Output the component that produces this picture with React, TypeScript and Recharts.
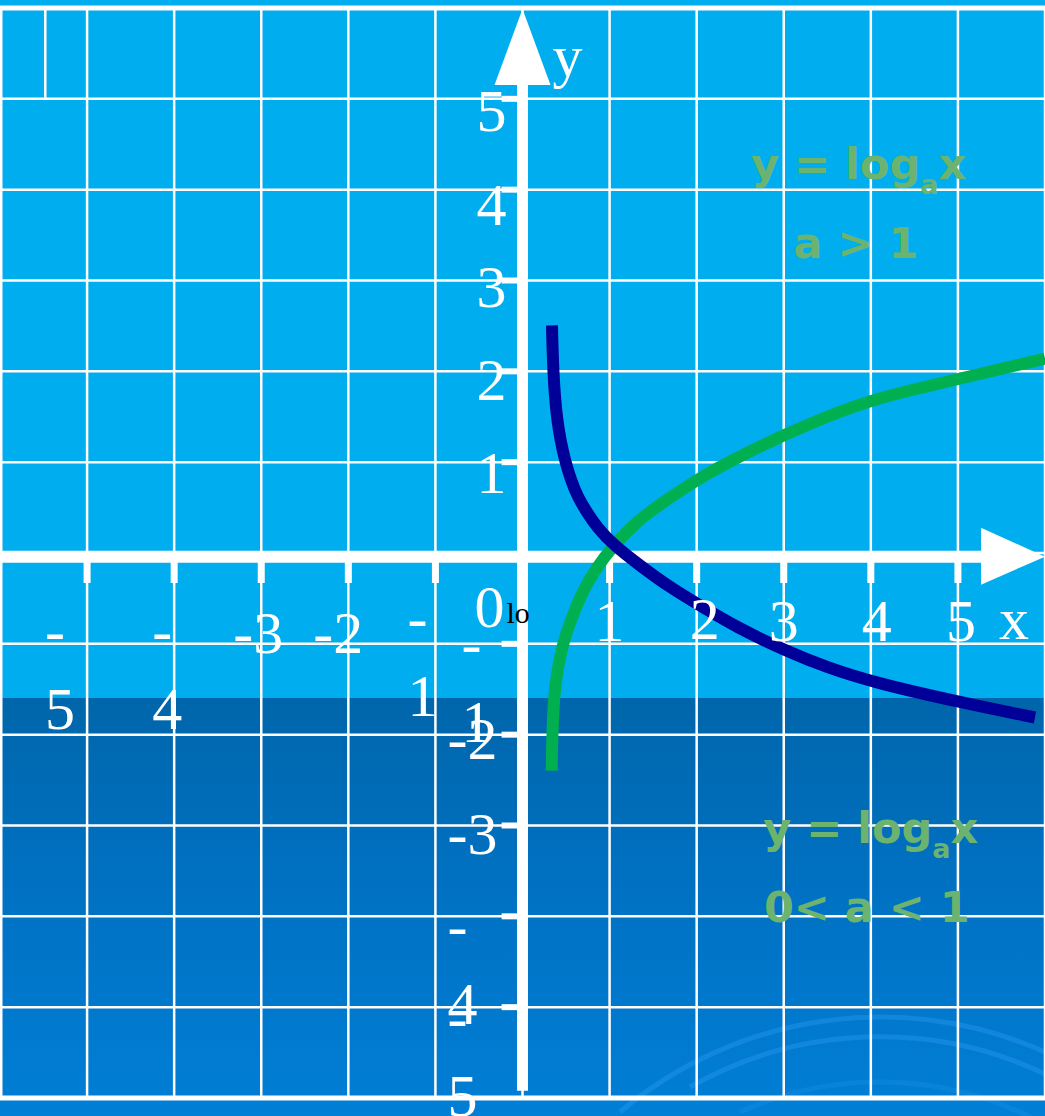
import { LineChart, Line, XAxis, YAxis, CartesianGrid, ReferenceLine, ReferenceDot } from 'recharts'

const GRID_STEPS = [-6, -5, -4, -3, -2, -1, 0, 1, 2, 3, 4, 5, 6]
const X_TICKS = [-5, -4, -3, -2, -1, 1, 2, 3, 4, 5]
const Y_TICKS = [5, 4, 3, 2, 1, -1, -2, -3, -4, -5]

// y = log_a x, a > 1
const LOG_GROWING = [
  { x: 0.335, y: -2.395 },
  { x: 0.338, y: -2.2 },
  { x: 0.342, y: -2.064 },
  { x: 0.354, y: -1.701 },
  { x: 0.379, y: -1.437 },
  { x: 0.408, y: -1.261 },
  { x: 0.448, y: -1.074 },
  { x: 0.494, y: -0.908 },
  { x: 0.568, y: -0.71 },
  { x: 0.66, y: -0.49 },
  { x: 0.741, y: -0.336 },
  { x: 0.856, y: -0.16 },
  { x: 0.994, y: 0.028 },
  { x: 1.315, y: 0.358 },
  { x: 1.694, y: 0.611 },
  { x: 2.061, y: 0.842 },
  { x: 2.463, y: 1.051 },
  { x: 3.014, y: 1.305 },
  { x: 3.496, y: 1.503 },
  { x: 4.036, y: 1.701 },
  { x: 5.035, y: 1.921 },
  { x: 6.0, y: 2.141 },
]

// y = log_a x, 0 < a < 1
const LOG_DECAYING = [
  { x: 0.339, y: 2.505 },
  { x: 0.341, y: 2.38 },
  { x: 0.346, y: 2.229 },
  { x: 0.354, y: 2.009 },
  { x: 0.371, y: 1.734 },
  { x: 0.396, y: 1.481 },
  { x: 0.436, y: 1.239 },
  { x: 0.488, y: 1.018 },
  { x: 0.557, y: 0.798 },
  { x: 0.637, y: 0.611 },
  { x: 0.741, y: 0.446 },
  { x: 0.856, y: 0.281 },
  { x: 1.051, y: 0.083 },
  { x: 1.349, y: -0.138 },
  { x: 1.694, y: -0.38 },
  { x: 2.038, y: -0.578 },
  { x: 2.463, y: -0.82 },
  { x: 3.014, y: -1.073 },
  { x: 3.496, y: -1.261 },
  { x: 4.036, y: -1.426 },
  { x: 5.035, y: -1.646 },
  { x: 5.885, y: -1.811 },
]

const FORMULA = ['y = log', 'a', 'x']
const CONDITIONS = ['a > 1', '0< a < 1']

const SERIF = '"Liberation Serif", "Times New Roman", serif'
const SANS = '"DejaVu Sans", Verdana, sans-serif'
const LABEL_GREEN = '#6BB36F'
const LINE_GAP = 78
const AXIS_Y = -0.04

// hand placement of the number labels around the axes
const X_LABEL_POS: Record<number, { dx: number; dy: number; wrap?: boolean }> = {
  [-5]: { dx: -42, dy: 98, wrap: true },
  [-4]: { dx: -22, dy: 98, wrap: true },
  [-3]: { dx: -28, dy: 100 },
  [-2]: { dx: -35, dy: 100 },
  [-1]: { dx: -28, dy: 85, wrap: true },
  1: { dx: 0, dy: 88 },
  2: { dx: 8, dy: 86 },
  3: { dx: 0, dy: 88 },
  4: { dx: 6, dy: 88 },
  5: { dx: 3, dy: 88 },
}

const Y_LABEL_POS: Record<number, { dx: number; dy: number; wrap?: boolean }> = {
  5: { dx: -16, dy: 32 },
  4: { dx: -16, dy: 35 },
  3: { dx: -16, dy: 26 },
  2: { dx: -16, dy: 29 },
  1: { dx: -16, dy: 31 },
  [-1]: { dx: -61, dy: 20, wrap: true },
  [-2]: { dx: -75, dy: 24 },
  [-3]: { dx: -75, dy: 28 },
  [-4]: { dx: -75, dy: 30, wrap: true },
  [-5]: { dx: -75, dy: 31, wrap: true },
}

const numStyle = { fill: '#fff', fontFamily: SERIF, fontSize: 60 }

function NumberLabel({ x, y, value, wrap }: { x: number; y: number; value: number; wrap?: boolean }) {
  const text = String(value)
  if (wrap) {
    return (
      <text x={x} y={y} {...numStyle}>
        <tspan x={x}>{text.slice(0, 1)}</tspan>
        <tspan x={x} dy={LINE_GAP}>{text.slice(1)}</tspan>
      </text>
    )
  }
  return <text x={x} y={y} {...numStyle}>{text}</text>
}

function XTickLabel({ cx, cy, value }: { cx: number; cy: number; value: number }) {
  const p = X_LABEL_POS[value]
  if (value > 0) {
    return (
      <text x={cx + p.dx} y={cy + p.dy} textAnchor="middle" {...numStyle}>
        {String(value)}
      </text>
    )
  }
  return <NumberLabel x={cx + p.dx} y={cy + p.dy} value={value} wrap={p.wrap} />
}

function YTickLabel({ cx, cy, value }: { cx: number; cy: number; value: number }) {
  const p = Y_LABEL_POS[value]
  if (value > 0) {
    return (
      <text x={cx + p.dx} y={cy + p.dy} textAnchor="end" {...numStyle}>
        {String(value)}
      </text>
    )
  }
  return <NumberLabel x={cx + p.dx} y={cy + p.dy} value={value} wrap={p.wrap} />
}

function Formula({ cx, cy, condition, conditionDx }: { cx: number; cy: number; condition: string; conditionDx: number }) {
  return (
    <g fontFamily={SANS} fontWeight="bold" fill={LABEL_GREEN} fontSize={43}>
      <text x={cx} y={cy} textAnchor="middle">
        {FORMULA[0]}
        <tspan fontSize={27} dy={15}>{FORMULA[1]}</tspan>
        <tspan dy={-15}>{FORMULA[2]}</tspan>
      </text>
      <text x={cx + conditionDx} y={cy + 79} textAnchor="middle">
        {condition}
      </text>
    </g>
  )
}

function Backdrop() {
  return (
    <svg width={1045} height={1116} style={{ position: 'absolute', left: 0, top: 0 }}>
      <g fill="none" stroke="#2A9BF0" strokeOpacity={0.4} strokeWidth={5}>
        <path d="M 620 1112 A 405 405 0 0 1 1045 1052" />
        <path d="M 690 1087 A 385 385 0 0 1 1045 1074" />
        <path d="M 740 1112 A 340 340 0 0 1 1045 1125" strokeOpacity={0.22} />
      </g>
    </svg>
  )
}

export default function App() {
  return (
    <div
      style={{
        position: 'absolute',
        left: 0,
        top: 0,
        width: 1045,
        height: 1116,
        overflow: 'hidden',
        background:
          'linear-gradient(to bottom, #00AEEF 0px, #00AEEF 698px, #0066AB 698px, #0072C4 900px, #007FD6 1116px)',
      }}
    >
      <Backdrop />
      <div style={{ position: 'absolute', left: 0, top: 0 }}>
        <LineChart width={1045} height={1116} margin={{ top: 8, right: 0, bottom: 18, left: 0 }}>
          <XAxis type="number" dataKey="x" domain={[-6, 6]} ticks={GRID_STEPS} hide allowDataOverflow />
          <YAxis type="number" dataKey="y" domain={[-6, 6]} ticks={GRID_STEPS} hide allowDataOverflow />
          <CartesianGrid stroke="#fff" strokeWidth={2.5} />

          {/* frame edges and the short divider in the corner cell */}
          <ReferenceLine y={6} stroke="#fff" strokeWidth={5} ifOverflow="visible" />
          <ReferenceLine y={-6} stroke="#fff" strokeWidth={5} ifOverflow="visible" />
          <ReferenceLine x={-6} stroke="#fff" strokeWidth={5} ifOverflow="visible" />
          <ReferenceLine
            segment={[{ x: -5.48, y: 5 }, { x: -5.48, y: 6 }]}
            stroke="#fff"
            strokeWidth={2.5}
            ifOverflow="visible"
          />

          {/* axes */}
          <ReferenceLine
            segment={[{ x: -6, y: AXIS_Y }, { x: 5.3, y: AXIS_Y }]}
            stroke="#fff"
            strokeWidth={12}
            ifOverflow="visible"
          />
          <ReferenceLine
            segment={[{ x: 0, y: -5.92 }, { x: 0, y: 5.2 }]}
            stroke="#fff"
            strokeWidth={11}
            ifOverflow="visible"
          />
          <ReferenceDot
            x={0}
            y={6}
            r={0}
            ifOverflow="visible"
            shape={(p: any) => (
              <g>
                <polygon
                  points={`${p.cx},${p.cy + 1} ${p.cx - 28},${p.cy + 77} ${p.cx + 28},${p.cy + 77}`}
                  fill="#fff"
                />
                <text x={p.cx + 30} y={p.cy + 68} {...numStyle}>y</text>
              </g>
            )}
          />
          <ReferenceDot
            x={6}
            y={AXIS_Y}
            r={0}
            ifOverflow="visible"
            shape={(p: any) => (
              <g>
                <polygon
                  points={`${p.cx},${p.cy} ${p.cx - 64},${p.cy - 29} ${p.cx - 64},${p.cy + 28}`}
                  fill="#fff"
                />
                <text x={p.cx - 46} y={p.cy + 82} {...numStyle}>x</text>
              </g>
            )}
          />

          {X_TICKS.map((v) => (
            <ReferenceLine
              key={`xt${v}`}
              segment={[{ x: v, y: AXIS_Y }, { x: v, y: -0.33 }]}
              stroke="#fff"
              strokeWidth={7}
              ifOverflow="visible"
            />
          ))}
          {Y_TICKS.map((v) => (
            <ReferenceLine
              key={`yt${v}`}
              segment={[{ x: -0.24, y: v }, { x: 0, y: v }]}
              stroke="#fff"
              strokeWidth={6}
              ifOverflow="visible"
            />
          ))}

          {X_TICKS.map((v) => (
            <ReferenceDot
              key={`xl${v}`}
              x={v}
              y={0}
              r={0}
              ifOverflow="visible"
              shape={(p: any) => <XTickLabel cx={p.cx} cy={p.cy} value={v} />}
            />
          ))}
          {Y_TICKS.map((v) => (
            <ReferenceDot
              key={`yl${v}`}
              x={0}
              y={v}
              r={0}
              ifOverflow="visible"
              shape={(p: any) => <YTickLabel cx={p.cx} cy={p.cy} value={v} />}
            />
          ))}
          <ReferenceDot
            x={0}
            y={0}
            r={0}
            ifOverflow="visible"
            shape={(p: any) => (
              <g>
                <text x={p.cx - 48} y={p.cy + 74} {...numStyle}>0</text>
                <text x={p.cx - 16} y={p.cy + 70} fill="#000" fontFamily={SERIF} fontSize={30}>lo</text>
              </g>
            )}
          />

          <ReferenceDot
            x={3.86}
            y={4.12}
            r={0}
            ifOverflow="visible"
            shape={(p: any) => <Formula cx={p.cx} cy={p.cy} condition={CONDITIONS[0]} conditionDx={-3} />}
          />
          <ReferenceDot
            x={4.0}
            y={-3.19}
            r={0}
            ifOverflow="visible"
            shape={(p: any) => <Formula cx={p.cx} cy={p.cy} condition={CONDITIONS[1]} conditionDx={-4} />}
          />

          <Line
            data={LOG_GROWING}
            dataKey="y"
            type="basis"
            stroke="#00B050"
            strokeWidth={12}
            dot={false}
            activeDot={false}
            isAnimationActive={false}
          />
          <Line
            data={LOG_DECAYING}
            dataKey="y"
            type="basis"
            stroke="#000099"
            strokeWidth={12}
            dot={false}
            activeDot={false}
            isAnimationActive={false}
          />
        </LineChart>
      </div>
    </div>
  )
}
